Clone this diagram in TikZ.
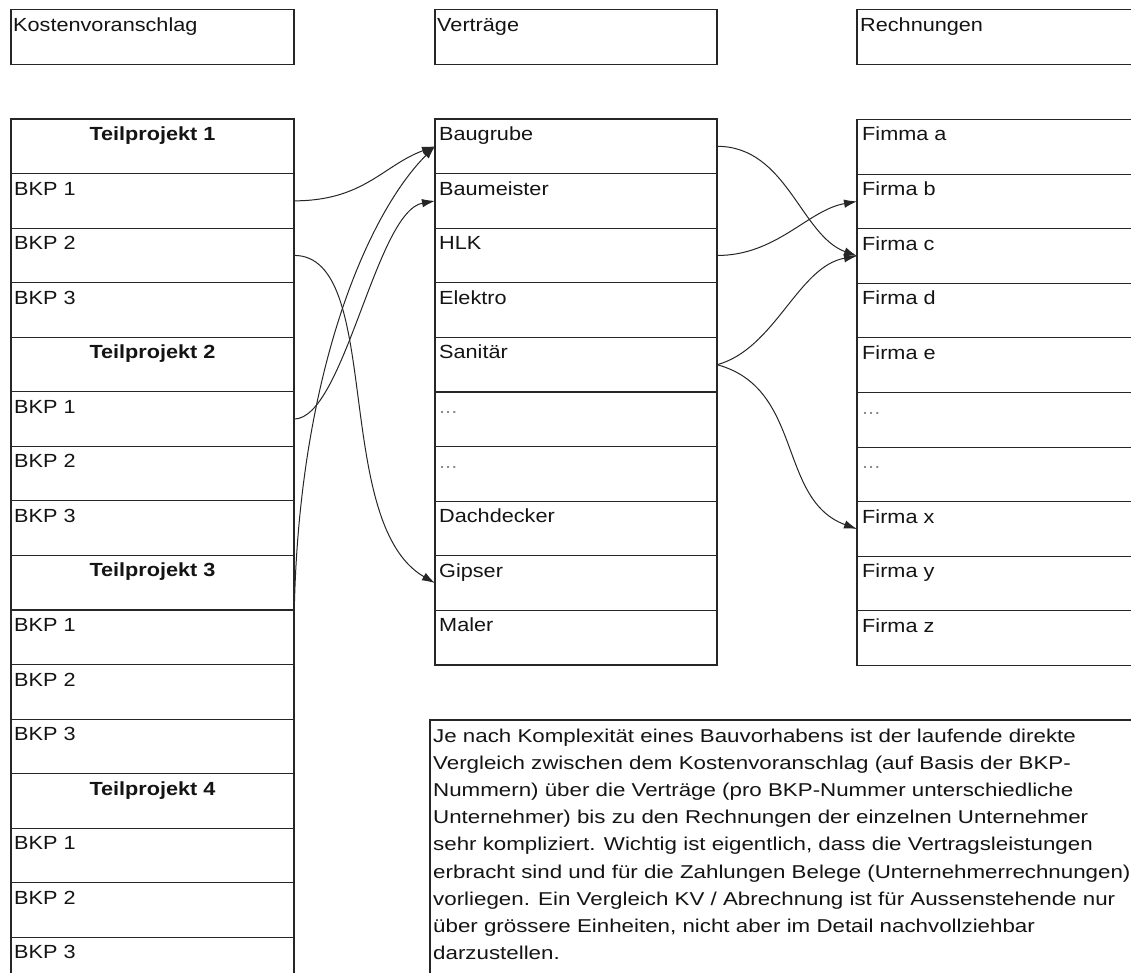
\documentclass[tikz,border=0pt]{standalone}
\usepackage{fontspec}
\setmainfont{Liberation Sans}[FakeStretch=1.14]
\newfontfamily\parafont{Liberation Sans}[FakeStretch=1.2]
\usetikzlibrary{arrows.meta}
\begin{document}
\begin{tikzpicture}[x=1pt,y=1pt,
  cell/.style={draw=black!85, line width=1.1pt, anchor=north west, minimum height=54.6pt, inner sep=0pt, outer sep=0pt},
  lcell/.style={cell, minimum width=283pt},
  mcell/.style={cell, minimum width=282pt},
  rcell/.style={cell, minimum width=300pt},
  hcell/.style={cell, minimum height=55pt},
  lbl/.style={anchor=base west, font=\fontsize{19}{22}\selectfont, inner sep=0pt, text=black!92},
  dots/.style={lbl, text=black!45},
  tplbl/.style={anchor=base, font=\fontsize{19}{22}\selectfont\bfseries, inner sep=0pt, text=black!92},
  para/.style={anchor=north west, align=left, font=\parafont\fontsize{18.6}{27.2}\selectfont, inner sep=0pt, text=black!92},
  arr/.style={draw=black!85, line width=1pt, -{Latex[length=13pt,width=8.5pt]}},
]
\useasboundingbox (0,0) rectangle (1131,-973);
\clip (0,0) rectangle (1131,-973);
\fill[white] (0,0) rectangle (1131,-973);

% headers
\node[hcell, minimum width=283pt] (h1) at (11,-9.3) {};
\node[hcell, minimum width=282pt] (h2) at (435,-9.3) {};
\node[hcell, minimum width=300pt] (h3) at (857,-9.3) {};
\node[lbl] (h1t) at ([xshift=2pt,yshift=-22.7pt]h1.north west) {Kostenvoranschlag};
\node[lbl] (h2t) at ([xshift=2pt,yshift=-22.7pt]h2.north west) {Verträge};
\node[lbl] (h3t) at ([xshift=3pt,yshift=-22.7pt]h3.north west) {Rechnungen};

% left column
\foreach \i in {1,...,16}{
  \node[lcell] (k\i) at (11,{-119-(\i-1)*54.55}) {};
}
\foreach \i/\n in {1/1,5/2,9/3,13/4}{
  \node[tplbl] (kt\i) at ([yshift=-21.5pt]k\i.north) {Teilprojekt \n};
}
\foreach \i/\n in {2/1,3/2,4/3,6/1,7/2,8/3,10/1,11/2,12/3,14/1,15/2,16/3}{
  \node[lbl] (kt\i) at ([xshift=3pt,yshift=-21.5pt]k\i.north west) {BKP \n};
}

% middle column
\foreach \i in {1,...,10}{
  \node[mcell] (v\i) at (435,{-119-(\i-1)*54.6}) {};
}
\foreach \t [count=\i] in {Baugrube,Baumeister,HLK,Elektro,Sanitär}{
  \node[lbl] (vt\i) at ([xshift=4pt,yshift=-21.5pt]v\i.north west) {\t};
}
\node[dots] (vt6) at ([xshift=4pt,yshift=-21.5pt]v6.north west) {...};
\node[dots] (vt7) at ([xshift=4pt,yshift=-21.5pt]v7.north west) {...};
\foreach \t [count=\j from 8] in {Dachdecker,Gipser,Maler}{
  \node[lbl] (vt\j) at ([xshift=4pt,yshift=-21.5pt]v\j.north west) {\t};
}

% right column
\foreach \i in {1,...,10}{
  \node[rcell] (r\i) at (857,{-119.5-(\i-1)*54.6}) {};
}
\foreach \t [count=\i] in {Fimma a,Firma b,Firma c,Firma d,Firma e}{
  \node[lbl] (rt\i) at ([xshift=5pt,yshift=-21.5pt]r\i.north west) {\t};
}
\node[dots] (rt6) at ([xshift=5pt,yshift=-21.5pt]r6.north west) {...};
\node[dots] (rt7) at ([xshift=5pt,yshift=-21.5pt]r7.north west) {...};
\foreach \t [count=\j from 8] in {Firma x,Firma y,Firma z}{
  \node[lbl] (rt\j) at ([xshift=5pt,yshift=-21.5pt]r\j.north west) {\t};
}

% text box
\node[cell, minimum width=760pt, minimum height=300pt] (tb) at (430,-720) {};
\node[para] (tbt) at ([xshift=3pt,yshift=-8.4pt]tb.north west) {Je nach Komplexität eines Bauvorhabens ist der laufende direkte\\
Vergleich zwischen dem Kostenvoranschlag (auf Basis der BKP-\\
Nummern) über die Verträge (pro BKP-Nummer unterschiedliche\\
Unternehmer) bis zu den Rechnungen der einzelnen Unternehmer\\
sehr kompliziert. Wichtig ist eigentlich, dass die Vertragsleistungen\\
erbracht sind und für die Zahlungen Belege (Unternehmerrechnungen)\\
vorliegen. Ein Vergleich KV / Abrechnung ist für Aussenstehende nur\\
über grössere Einheiten, nicht aber im Detail nachvollziehbar\\
darzustellen.};

% connectors left -> middle
\draw[arr] (k2.east) .. controls +(0:70) and +(200:55) .. (v1.west);
\draw[arr] (k10.east) .. controls +(90:250) and +(225:100) .. (v1.west);
\draw[arr] (k6.east) .. controls +(0:50) and +(190:60) .. (v2.west);
\draw[arr] (k3.east) .. controls +(0:90) and +(150:120) .. (v9.west);

% connectors middle -> right
\draw[arr] (v1.east) .. controls +(0:70) and +(160:60) .. (r3.west);
\draw[arr] (v3.east) .. controls +(0:60) and +(190:50) .. (r2.west);
\draw[arr] (v5.east) .. controls +(15:60) and +(190:60) .. (r3.west);
\draw[arr] (v5.east) .. controls +(-15:90) and +(160:85) .. (r8.west);
\end{tikzpicture}
\end{document}
